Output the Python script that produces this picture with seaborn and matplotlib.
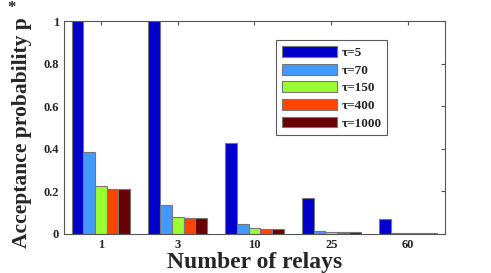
import pandas as pd
import matplotlib
matplotlib.use("Agg")
import matplotlib.pyplot as plt
import seaborn as sns

# data
relays = ["1", "3", "10", "25", "60"]
taus = ["\u03c4=5", "\u03c4=70", "\u03c4=150", "\u03c4=400", "\u03c4=1000"]
p_tau5 = [1.0, 1.0, 0.425, 0.17, 0.072]
p_tau70 = [0.385, 0.138, 0.045, 0.016, 0.006]
p_tau150 = [0.225, 0.080, 0.026, 0.009, 0.004]
p_tau400 = [0.210, 0.075, 0.024, 0.008, 0.004]
p_tau1000 = [0.210, 0.075, 0.024, 0.008, 0.004]
colors = ["#0000CC", "#4499FF", "#99FF33", "#FF4400", "#6B0000"]

series = [p_tau5, p_tau70, p_tau150, p_tau400, p_tau1000]
rows = []
for tau, vals in zip(taus, series):
    for r, v in zip(relays, vals):
        rows.append({"relays": r, "p": v, "tau": tau})
df = pd.DataFrame(rows)

sns.set_style("white")
plt.rcParams['font.family'] = ['Liberation Serif', 'DejaVu Serif']
plt.rcParams['font.weight'] = 'bold'

fig = plt.figure(figsize=(4.91, 2.73), dpi=100)
ax = fig.add_axes([64 / 491, 1 - 234 / 273, 381 / 491, 213 / 273])

sns.barplot(data=df, x="relays", y="p", hue="tau", order=relays, hue_order=taus,
            palette=colors, saturation=1, width=0.76, gap=0,
            edgecolor="#777777", linewidth=0.8, ax=ax)

ax.set_xlim(-0.48, 4.48)
ax.set_ylim(0, 1)
ax.set_yticks([0, 0.2, 0.4, 0.6, 0.8, 1])
ax.set_yticklabels(["0", "0.2", "0.4", "0.6", "0.8", "1"])
ax.tick_params(direction="in", length=3, top=True, right=True, labelsize=9,
               color="#555555")
for lab in ax.get_xticklabels() + ax.get_yticklabels():
    lab.set_fontweight("bold")
for s in ax.spines.values():
    s.set_color("#555555")
    s.set_linewidth(0.8)

ax.set_xlabel("Number of relays", fontsize=17, fontweight="bold", labelpad=1)
ax.set_ylabel("Acceptance probability p", fontsize=15.5, fontweight="bold")
ax.yaxis.set_label_coords(-0.085, 0.475)
fig.text(12 / 491, 1 - 8 / 273, "*", fontsize=12, fontweight="bold",
         ha="center", va="center")

leg = ax.legend(loc="upper left", bbox_to_anchor=((276 - 64) / 381, 1 - (40 - 21) / 213),
                frameon=True, fancybox=False, fontsize=9.5, handlelength=4.2,
                handleheight=0.9, labelspacing=0.35, borderpad=0.45,
                handletextpad=0.3, borderaxespad=0)
leg.get_frame().set_edgecolor("#333333")
leg.get_frame().set_linewidth(0.8)
for t in leg.get_texts():
    t.set_fontweight("bold")

fig.savefig("out.png", dpi=100)
